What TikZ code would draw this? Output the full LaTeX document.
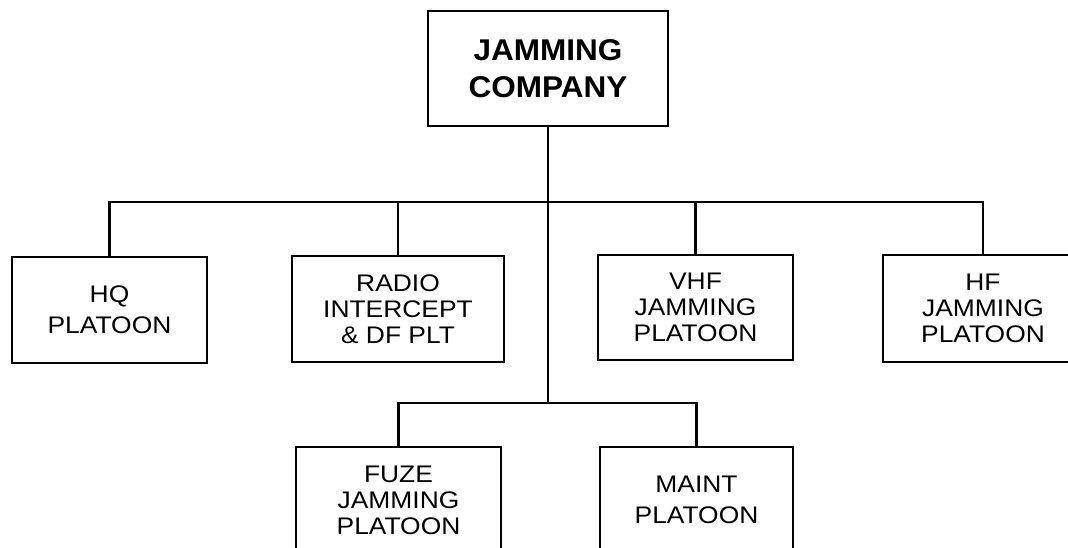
\documentclass[tikz,border=0pt]{standalone}
\usepackage{fontspec}
\newfontfamily\boxfont[FakeStretch=1.1]{Liberation Sans}
\newfontfamily\topfont[FakeStretch=1.05]{Liberation Sans}
\begin{document}
\begin{tikzpicture}[x=1pt,y=-1pt,
  unitbox/.style={draw, line width=2.6pt, rectangle, inner sep=0pt, align=center,
    font=\boxfont\fontsize{24}{26}\selectfont},
  twoline/.style={font=\boxfont\fontsize{24}{31}\selectfont},
  topbox/.style={draw, line width=2.6pt, rectangle, inner sep=0pt, align=center,
    font=\topfont\bfseries\fontsize{30}{37}\selectfont},
  link/.style={line width=2.4pt}]
\useasboundingbox (0,0) rectangle (1068,548);
\clip (0,0) rectangle (1068,548);
\node[topbox, minimum width=240pt, minimum height=115pt] (top) at (548,68.5) {JAMMING\\COMPANY};
\node[unitbox, twoline, minimum width=195pt, minimum height=106pt] (hq) at (109.5,310) {HQ\\PLATOON};
\node[unitbox, minimum width=212pt, minimum height=106pt] (radio) at (398,309) {RADIO\\INTERCEPT\\\& DF PLT};
\node[unitbox, minimum width=195pt, minimum height=105pt] (vhf) at (695.5,307.5) {VHF\\JAMMING\\PLATOON};
\node[unitbox, minimum width=200pt, minimum height=107pt] (hf) at (983,308.5) {HF\\JAMMING\\PLATOON};
\node[unitbox, minimum width=205pt, minimum height=106pt] (fuze) at (398.5,500) {FUZE\\JAMMING\\PLATOON};
\node[unitbox, twoline, minimum width=193pt, minimum height=106pt] (maint) at (696.5,500) {MAINT\\PLATOON};
\coordinate (j1) at (548,202);
\coordinate (j2) at (548,403);
\draw[link] (top.south) -- (j2);
\draw[link] (hq.north) |- (j1) -| (hf.north);
\draw[link] (radio.north) -- (radio.north |- j1);
\draw[link] (vhf.north) -- (vhf.north |- j1);
\draw[link] (fuze.north) |- (j2) -| (maint.north);
\end{tikzpicture}
\end{document}
